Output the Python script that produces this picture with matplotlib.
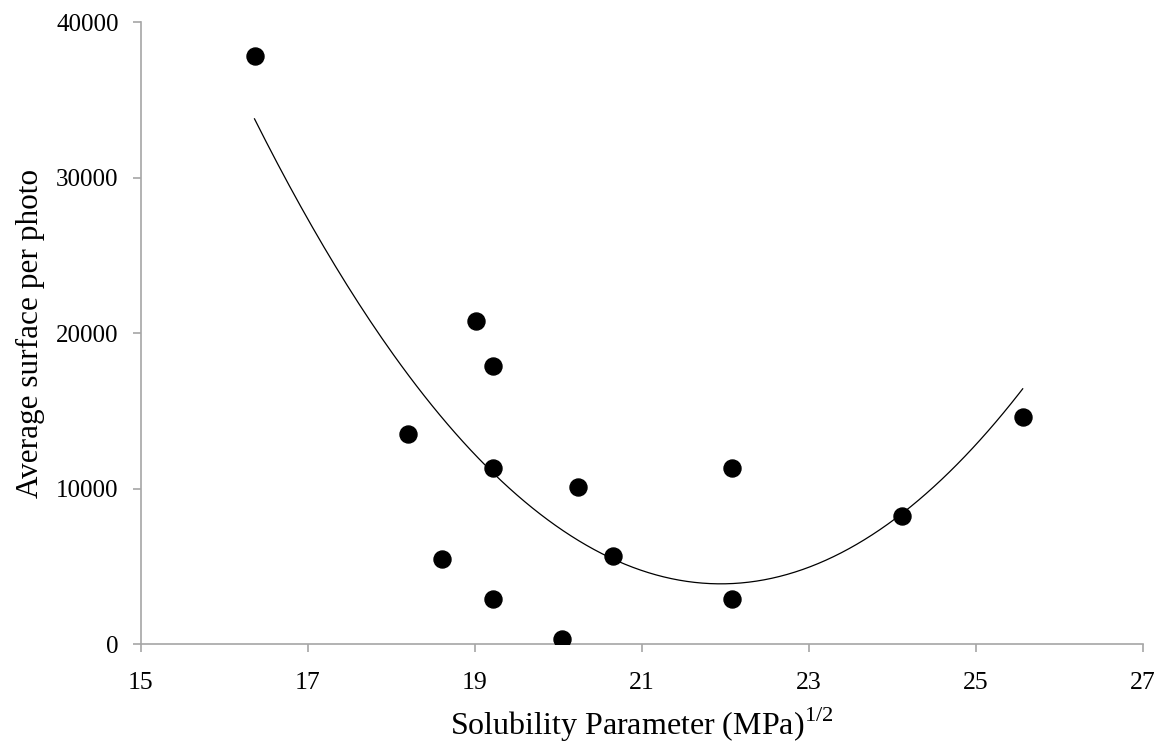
import numpy as np
import matplotlib
matplotlib.use("Agg")
import matplotlib.pyplot as plt

plt.rcParams['font.family'] = ['Liberation Serif', 'DejaVu Serif']
plt.rcParams['mathtext.fontset'] = 'custom'
plt.rcParams['mathtext.rm'] = 'Liberation Serif'

# values
solubility = [16.36, 19.01, 19.22, 18.20, 19.22, 20.24, 20.65, 18.61, 19.22, 20.04, 22.08, 22.08, 24.12, 25.56]
surface = [37800, 20800, 17900, 13500, 11350, 10100, 5650, 5450, 2870, 320, 11350, 2870, 8200, 14600]

x_ticks = [15, 17, 19, 21, 23, 25, 27]
y_ticks = [0, 10000, 20000, 30000, 40000]

fig = plt.figure(figsize=(11.62, 7.44), dpi=100)
ax = fig.add_axes([0.1213, 0.1344, 0.8623, 0.836])

ax.scatter(solubility, surface, s=150, color='black', zorder=3)

# 2nd order polynomial trend line, like the spreadsheet one
coef = np.polyfit(solubility, surface, 2)
xs = np.linspace(min(solubility), max(solubility), 200)
ax.plot(xs, np.polyval(coef, xs), color='black', linewidth=0.9)

ax.set_xlim(15, 27)
ax.set_ylim(0, 40000)
ax.set_xticks(x_ticks)
ax.set_yticks(y_ticks)

for side in ['top', 'right']:
    ax.spines[side].set_visible(False)
for side in ['left', 'bottom']:
    ax.spines[side].set_color('#a6a6a6')
    ax.spines[side].set_linewidth(1.2)
ax.tick_params(direction='out', length=6, width=1.2, color='#a6a6a6',
               labelsize=18, labelcolor='black')
ax.tick_params(axis='x', labelsize=18.5, pad=14)
ax.tick_params(axis='y', pad=10)

ax.set_xlabel('Solubility Parameter (MPa)$^{\\mathrm{1/2}}$', fontsize=23, labelpad=8.5)
ax.set_ylabel('Average surface per photo', fontsize=22.5, labelpad=8)

fig.savefig('out.png', dpi=100)
